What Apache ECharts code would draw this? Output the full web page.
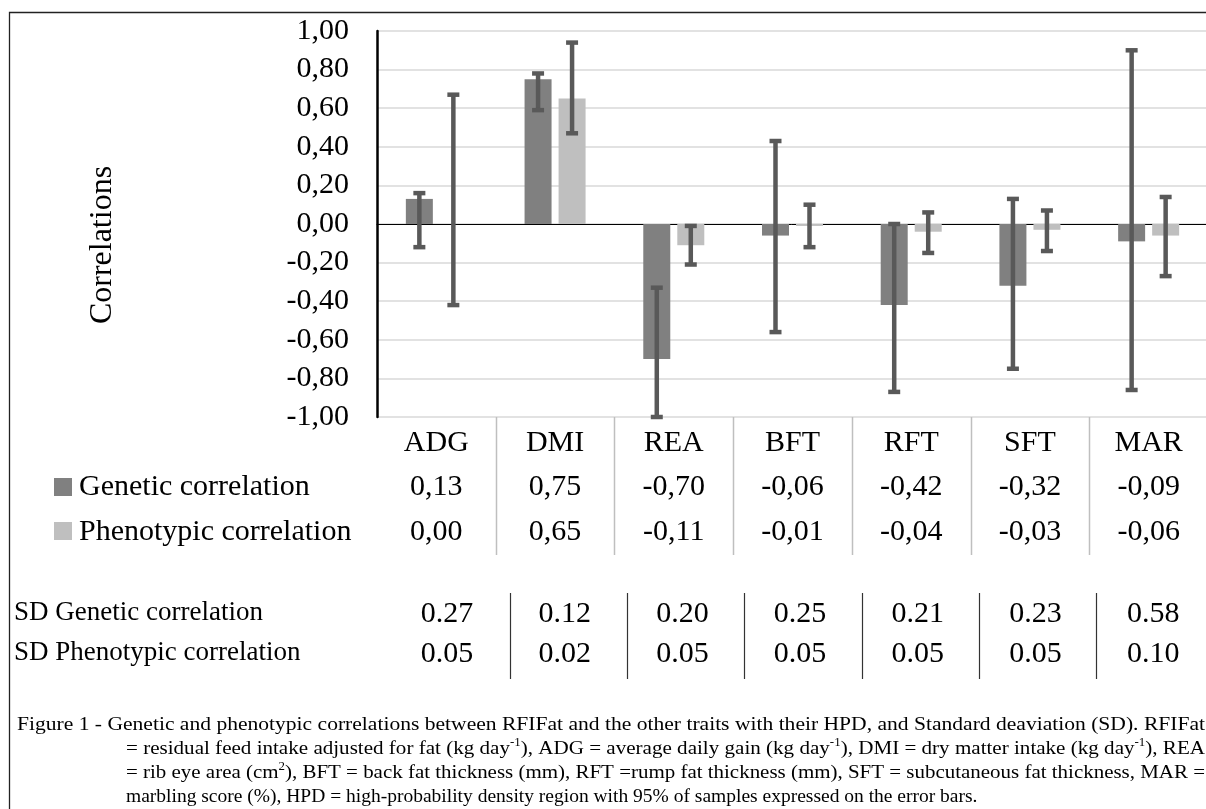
<!DOCTYPE html>
<html>
<head>
<meta charset="utf-8">
<script src="https://cdn.jsdelivr.net/npm/echarts@6/dist/echarts.min.js"></script>
<style>
  html, body { margin: 0; padding: 0; background: #fff; }
  #chart { width: 1206px; height: 809px; }
</style>
</head>
<body>
<div id="chart"></div>
<script>
// data
const categories = ['ADG', 'DMI', 'REA', 'BFT', 'RFT', 'SFT', 'MAR']
const geneticCorr = [0.13, 0.75, -0.70, -0.06, -0.42, -0.32, -0.09]
const phenoCorr = [0.00, 0.65, -0.11, -0.01, -0.04, -0.03, -0.06]
// HPD intervals (error bars), [low, high]
const geneticHPD = [[-0.12, 0.16], [0.59, 0.78], [-1.00, -0.33], [-0.56, 0.43], [-0.87, 0.00], [-0.75, 0.13], [-0.86, 0.90]]
const phenoHPD = [[-0.42, 0.67], [0.47, 0.94], [-0.21, -0.01], [-0.12, 0.10], [-0.15, 0.06], [-0.14, 0.07], [-0.27, 0.14]]
const sdGenetic = ['0.27', '0.12', '0.20', '0.25', '0.21', '0.23', '0.58']
const sdPheno = ['0.05', '0.02', '0.05', '0.05', '0.05', '0.05', '0.10']
const yMin = -1
const yMax = 1
const yStep = 0.2

const captionLines = [
    'Figure 1 - Genetic and phenotypic correlations between RFIFat and the other traits with their HPD, and Standard deaviation (SD). RFIFat',
    '= residual feed intake adjusted for fat (kg day{sup|-1}), ADG = average daily gain (kg day{sup|-1}), DMI = dry matter intake (kg day{sup|-1}), REA',
    '= rib eye area (cm{sup|2}), BFT = back fat thickness (mm), RFT =rump fat thickness (mm), SFT = subcutaneous fat thickness, MAR =',
    'marbling score (%), HPD = high-probability density region with 95% of samples expressed on the error bars.'
]

const FONT = '"Liberation Serif", "Times New Roman", serif'
const GEN_COLOR = '#808080'
const PHE_COLOR = '#bfbfbf'
const ERR_COLOR = '#595959'
const fmt = v => v.toFixed(2).replace('.', ',')

const myChart = echarts.init(document.getElementById('chart'))

// error bars drawn as custom series, shifted to the bar centre
const errorBar = (offset) => (params, api) => {
    const top = api.coord([api.value(0), api.value(2)])
    const bot = api.coord([api.value(0), api.value(1)])
    const x = top[0] + offset
    const st = { stroke: ERR_COLOR, lineWidth: 4.5 }
    return {
        type: 'group',
        children: [
            { type: 'line', shape: { x1: x, y1: top[1], x2: x, y2: bot[1] }, style: st },
            { type: 'line', shape: { x1: x - 6, y1: top[1], x2: x + 6, y2: top[1] }, style: st },
            { type: 'line', shape: { x1: x - 6, y1: bot[1], x2: x + 6, y2: bot[1] }, style: st }
        ]
    }
}

myChart.setOption({
    backgroundColor: '#fff',
    animation: false,
    textStyle: { fontFamily: FONT },
    grid: {
        left: 377,
        top: 31,
        width: 831,
        height: 386,
        outerBoundsMode: 'none'
    },
    xAxis: {
        type: 'category',
        data: categories,
        axisLine: { onZero: true, lineStyle: { color: '#000', width: 1 } },
        axisTick: { show: false },
        axisLabel: { show: false },
        splitLine: { show: false }
    },
    yAxis: {
        type: 'value',
        min: yMin,
        max: yMax,
        interval: yStep,
        axisLine: { show: true, lineStyle: { color: '#000', width: 2.5 } },
        axisTick: { show: false },
        axisLabel: {
            color: '#000',
            fontSize: 30,
            fontFamily: FONT,
            margin: 28,
            formatter: v => fmt(v)
        },
        splitLine: { show: true, lineStyle: { color: '#d9d9d9', width: 1.5 } }
    },
    series: [
        {
            name: 'Genetic correlation',
            type: 'bar',
            data: geneticCorr,
            barWidth: 27,
            barGap: '26%',
            itemStyle: { color: GEN_COLOR }
        },
        {
            name: 'Phenotypic correlation',
            type: 'bar',
            data: phenoCorr,
            barWidth: 27,
            barGap: '26%',
            itemStyle: { color: PHE_COLOR }
        },
        {
            type: 'custom',
            z: 3,
            renderItem: errorBar(-17),
            encode: { x: 0, y: [1, 2] },
            data: geneticHPD.map((d, i) => [i, d[0], d[1]])
        },
        {
            type: 'custom',
            z: 3,
            renderItem: errorBar(17),
            encode: { x: 0, y: [1, 2] },
            data: phenoHPD.map((d, i) => [i, d[0], d[1]])
        }
    ]
})

// ---- data table, SD table, caption ----
const txt = (x, y, text, size, align, extra) => Object.assign({
    type: 'text', x: x, y: y, silent: true,
    style: {
        text: text, fill: '#000',
        font: size + 'px ' + FONT,
        align: align, textAlign: align,
        verticalAlign: 'middle', textVerticalAlign: 'middle'
    }
}, extra || {})

const vline = (x, y1, y2, color, w) => ({
    type: 'line', silent: true,
    shape: { x1: x, y1: y1, x2: x, y2: y2 },
    style: { stroke: color, lineWidth: w }
})

const cx = categories.map((c, i) => myChart.convertToPixel({ xAxisIndex: 0 }, i))
const graphics = []

// outer frame (only top and left edges are inside the picture)
graphics.push({
    type: 'polyline', silent: true,
    shape: { points: [[9.5, 820], [9.5, 12.5], [1220, 12.5]] },
    style: { fill: null, stroke: '#222', lineWidth: 1.3 }
})

// y axis title
graphics.push(txt(103, 245, 'Correlations', 32, 'center', { rotation: Math.PI / 2 }))

// data table under the plot
for (let i = 1; i < categories.length; i++) {
    graphics.push(vline(Math.round((cx[i - 1] + cx[i]) / 2) + 0.5, 417, 555, '#bfbfbf', 1.5))
}
categories.forEach((c, i) => {
    graphics.push(txt(cx[i], 443, c, 30, 'center'))
    graphics.push(txt(cx[i], 487, fmt(geneticCorr[i]), 30, 'center'))
    graphics.push(txt(cx[i], 532, fmt(phenoCorr[i]), 30, 'center'))
})
graphics.push({ type: 'rect', silent: true, shape: { x: 54, y: 478, width: 18, height: 18 }, style: { fill: GEN_COLOR } })
graphics.push({ type: 'rect', silent: true, shape: { x: 54, y: 522, width: 18, height: 18 }, style: { fill: PHE_COLOR } })
graphics.push(txt(79, 487, 'Genetic correlation', 30, 'left'))
graphics.push(txt(79, 532, 'Phenotypic correlation', 30, 'left'))

// SD table
graphics.push(txt(14, 613, 'SD Genetic correlation', 27, 'left'))
graphics.push(txt(14, 653, 'SD Phenotypic correlation', 27, 'left'))
sdGenetic.forEach((v, i) => {
    const x = 447 + i * 117.7
    graphics.push(txt(x, 614, v, 30, 'center'))
    graphics.push(txt(x, 654, sdPheno[i], 30, 'center'))
    if (i < sdGenetic.length - 1) {
        graphics.push(vline(Math.round(510 + i * 117.2) + 0.5, 593, 679, '#333', 1.2))
    }
})

// caption, lines 1-3 justified to the right edge
const capSize = 19.5
const supSize = 12
const ctx = document.createElement('canvas').getContext('2d')
const measure = (line) => {
    let w = 0
    line.split(/(\{sup\|[^}]*\})/).forEach(part => {
        const m = part.match(/^\{sup\|([^}]*)\}$/)
        if (m) {
            ctx.font = supSize + 'px ' + FONT
            w += ctx.measureText(m[1]).width
        } else {
            ctx.font = capSize + 'px ' + FONT
            w += ctx.measureText(part).width
        }
    })
    return w
}
const capStart = [17, 126, 126, 126]
const capEnd = 1205
captionLines.forEach((line, i) => {
    const w = measure(line)
    const s = i < 3 ? (capEnd - capStart[i]) / w : 1
    graphics.push({
        type: 'text', silent: true,
        x: capStart[i], y: 725 + i * 24, scaleX: s,
        style: {
            text: line, fill: '#000',
            font: capSize + 'px ' + FONT,
            lineHeight: 24,
            align: 'left', textAlign: 'left',
            verticalAlign: 'middle', textVerticalAlign: 'middle',
            rich: {
                sup: { fontSize: supSize, fontFamily: FONT, lineHeight: 14, verticalAlign: 'top' }
            }
        }
    })
})

myChart.setOption({ graphic: graphics })
</script>
</body>
</html>
